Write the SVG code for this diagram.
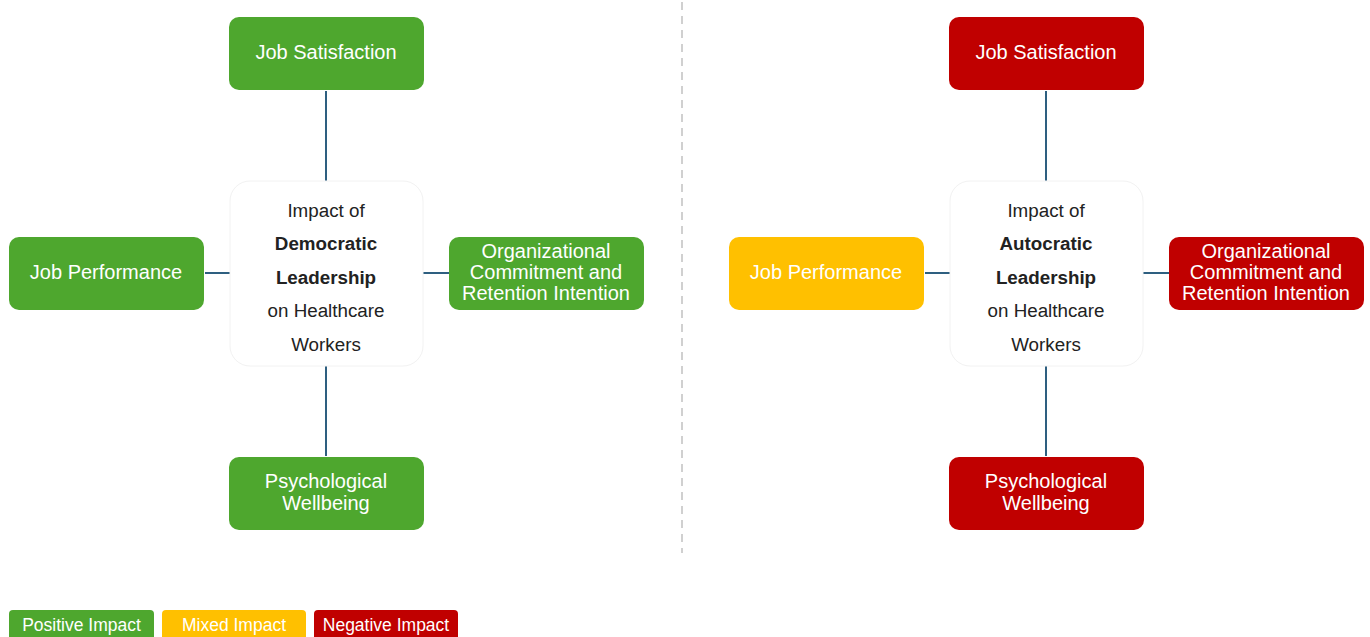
<svg xmlns="http://www.w3.org/2000/svg" width="1370" height="637" viewBox="0 0 1370 637">
<style>
.n{stroke:none}
.g{fill:#4ea72e}
.r{fill:#c00000}
.y{fill:#ffc000}
.t{font-family:"Liberation Sans",Arial,sans-serif;font-size:20px;fill:#ffffff;text-anchor:middle}
.c{fill:#ffffff;stroke:#f2f2f2;stroke-width:1}
.ct{font-family:"Liberation Sans",Arial,sans-serif;font-size:18.8px;fill:#222222;text-anchor:middle}
.b{font-weight:bold}
.l{font-family:"Liberation Sans",Arial,sans-serif;font-size:17.5px;fill:#ffffff;text-anchor:middle}
.k{stroke:#2e5f80;stroke-width:2;fill:none}
</style>
<rect width="1370" height="637" fill="#ffffff"/>
<line x1="682" y1="2" x2="682" y2="553" stroke="#d0d0d0" stroke-width="2" stroke-dasharray="8,6"/>
<g id="connectors">
<line class="k" x1="326" y1="91" x2="326" y2="181"/>
<line class="k" x1="205" y1="273" x2="230" y2="273"/>
<line class="k" x1="423" y1="273" x2="449" y2="273"/>
<line class="k" x1="326" y1="366" x2="326" y2="456"/>
<line class="k" x1="1046" y1="91" x2="1046" y2="181"/>
<line class="k" x1="925" y1="273" x2="950" y2="273"/>
<line class="k" x1="1143" y1="273" x2="1169" y2="273"/>
<line class="k" x1="1046" y1="366" x2="1046" y2="456"/>
</g>
<g id="dem-center">
<rect class="c" x="230" y="181" width="193" height="185" rx="20"/>
<text class="ct" x="326" y="217">Impact of</text>
<text class="ct b" x="326" y="250">Democratic</text>
<text class="ct b" x="326" y="284">Leadership</text>
<text class="ct" x="326" y="317">on Healthcare</text>
<text class="ct" x="326" y="351">Workers</text>
</g>
<g id="dem-js"><rect class="g" x="229" y="17" width="195" height="73" rx="10"/><text class="t" x="326" y="59">Job Satisfaction</text></g>
<g id="dem-jp"><rect class="g" x="9" y="237" width="195" height="73" rx="10"/><text class="t" x="106" y="279">Job Performance</text></g>
<g id="dem-oc"><rect class="g" x="449" y="237" width="195" height="73" rx="10"/><text class="t" x="546" y="258">Organizational</text><text class="t" x="546" y="279">Commitment and</text><text class="t" x="546" y="300">Retention Intention</text></g>
<g id="dem-pw"><rect class="g" x="229" y="457" width="195" height="73" rx="10"/><text class="t" x="326" y="488">Psychological</text><text class="t" x="326" y="510">Wellbeing</text></g>
<g id="aut-center">
<rect class="c" x="950" y="181" width="193" height="185" rx="20"/>
<text class="ct" x="1046" y="217">Impact of</text>
<text class="ct b" x="1046" y="250">Autocratic</text>
<text class="ct b" x="1046" y="284">Leadership</text>
<text class="ct" x="1046" y="317">on Healthcare</text>
<text class="ct" x="1046" y="351">Workers</text>
</g>
<g id="aut-js"><rect class="r" x="949" y="17" width="195" height="73" rx="10"/><text class="t" x="1046" y="59">Job Satisfaction</text></g>
<g id="aut-jp"><rect class="y" x="729" y="237" width="195" height="73" rx="10"/><text class="t" x="826" y="279">Job Performance</text></g>
<g id="aut-oc"><rect class="r" x="1169" y="237" width="195" height="73" rx="10"/><text class="t" x="1266" y="258">Organizational</text><text class="t" x="1266" y="279">Commitment and</text><text class="t" x="1266" y="300">Retention Intention</text></g>
<g id="aut-pw"><rect class="r" x="949" y="457" width="195" height="73" rx="10"/><text class="t" x="1046" y="488">Psychological</text><text class="t" x="1046" y="510">Wellbeing</text></g>
<g id="legend">
<g id="leg-pos"><rect class="g" x="9" y="610" width="145" height="34" rx="4"/><text class="l" x="81.5" y="631">Positive Impact</text></g>
<g id="leg-mix"><rect class="y" x="162" y="610" width="144" height="34" rx="4"/><text class="l" x="234" y="631">Mixed Impact</text></g>
<g id="leg-neg"><rect class="r" x="314" y="610" width="144" height="34" rx="4"/><text class="l" x="386" y="631">Negative Impact</text></g>
</g>
</svg>
